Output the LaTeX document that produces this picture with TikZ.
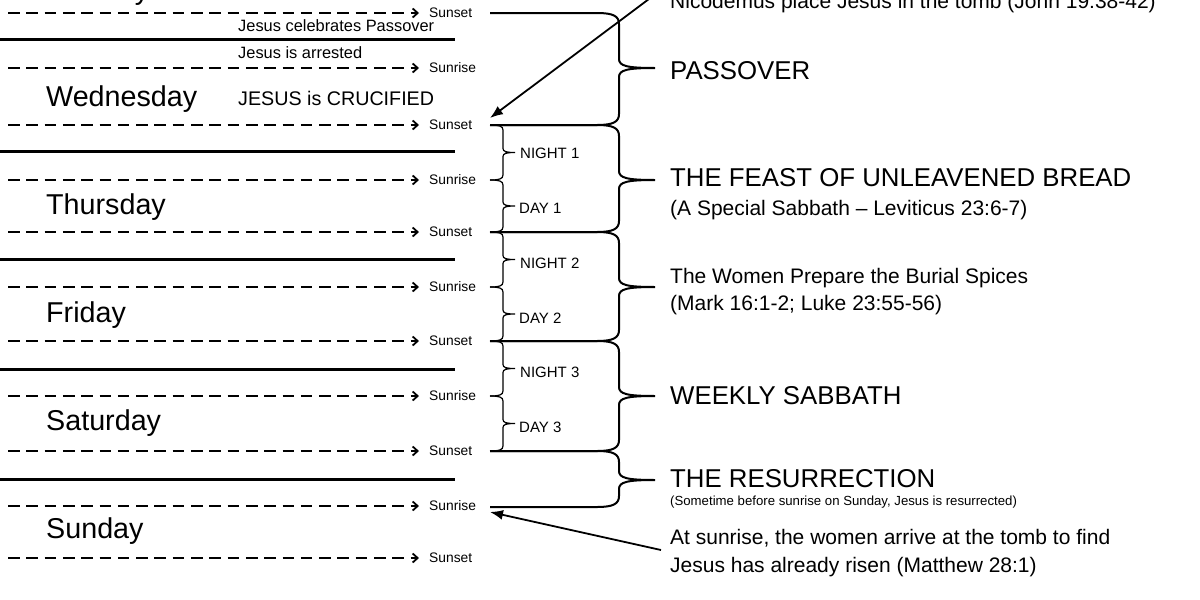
\documentclass[tikz,border=0pt]{standalone}
\usepackage{fontspec}
\setmainfont{Liberation Sans}
\usetikzlibrary{arrows.meta}
\newcommand{\BBrace}[3]{%
  \draw[bbr] (490,#1) -- (597,#1) .. controls (613,#1) and (619,#1+3) .. (619,#1+11)
    -- (619,#3-9) .. controls (619,#3-2) and (627,#3) .. (655,#3)
    .. controls (627,#3) and (619,#3+2) .. (619,#3+9)
    -- (619,#2-11) .. controls (619,#2-3) and (613,#2) .. (597,#2) -- (490,#2);}
\newcommand{\SBrace}[3]{%
  \draw[sbr] (490,#1) .. controls (499,#1) and (503,#1+1) .. (503,#1+5)
    -- (503,#3-4) .. controls (503,#3-1) and (506,#3) .. (515,#3)
    .. controls (506,#3) and (503,#3+1) .. (503,#3+4)
    -- (503,#2-5) .. controls (503,#2-1) and (499,#2) .. (490,#2);}
\begin{document}
\begin{tikzpicture}[x=1pt,y=-1pt,
  dashline/.style={line width=2.8pt, dash pattern=on 11.6pt off 6.7pt,
     shorten >=10pt, -{Straight Barb[length=5pt,width=9pt,line width=1.8pt]}},
  solidline/.style={line width=3pt},
  bbr/.style={line width=2pt},
  sbr/.style={line width=1.2pt},
  ptr/.style={line width=1.8pt, -{Latex[length=13pt,width=10pt]}},
  tick/.style={font=\fontsize{13.8}{16}\selectfont, inner sep=0, anchor=west},
  day/.style={font=\fontsize{28.7}{32}\selectfont, inner sep=0, anchor=base west},
  ev/.style={font=\fontsize{16.4}{20}\selectfont, inner sep=0, anchor=base west},
  crux/.style={font=\fontsize{19.7}{23}\selectfont, inner sep=0, anchor=base west},
  big/.style={font=\fontsize{25.8}{30}\selectfont, inner sep=0, anchor=base west},
  sub/.style={font=\fontsize{21}{25}\selectfont, inner sep=0, anchor=base west},
  tiny/.style={font=\fontsize{13.2}{16}\selectfont, inner sep=0, anchor=base west},
  nd/.style={font=\fontsize{15}{18}\selectfont, inner sep=0, anchor=west}]
\useasboundingbox (0,0) rectangle (1200,600);
\fill[white] (0,0) rectangle (1200,600);
\clip (0,0) rectangle (1200,600);

% dashed sunset / sunrise lines
\foreach \y/\t/\n in {13/Sunset/0,68/Sunrise/1,125/Sunset/2,180/Sunrise/3,232/Sunset/4,
   287/Sunrise/5,341/Sunset/6,396/Sunrise/7,451/Sunset/8,506/Sunrise/9,558/Sunset/10}{
  \coordinate (d\n) at (8,\y);
  \node[tick] (t\n) at (429,\y) {\t};
  \draw[dashline] (d\n) -- (t\n.west);
}
% solid midnight lines
\foreach \y/\n in {39/0,151/1,259/2,369/3,479/4}{
  \coordinate (sa\n) at (0,\y);
  \coordinate (sb\n) at (455,\y);
  \draw[solidline] (sa\n) -- (sb\n);
}

% day names
\node[day] (tue) at (40,-1) {Tuesday};
\node[day] (wed) at (46,106) {Wednesday};
\node[day] (thu) at (46,214) {Thursday};
\node[day] (fri) at (46,322) {Friday};
\node[day] (sat) at (46,430) {Saturday};
\node[day] (sun) at (46,538) {Sunday};

% events
\node[ev] (pass) at (238,31.5) {Jesus celebrates Passover};
\node[ev] (arr) at (238,58) {Jesus is arrested};
\node[crux] (cru) at (238,105) {JESUS is CRUCIFIED};

% big braces
\BBrace{13}{125}{68}
\BBrace{125}{232}{180}
\BBrace{232}{341}{287}
\BBrace{341}{451}{396}
\BBrace{451}{507}{480}

% small braces
\SBrace{125}{180}{152.5}
\SBrace{180}{232}{206}
\SBrace{232}{287}{259.5}
\SBrace{287}{341}{314}
\SBrace{341}{396}{368.5}
\SBrace{396}{451}{423.5}

\node[nd] (n1) at (520,153.5) {NIGHT 1};
\node[nd] (dy1) at (519,208) {DAY 1};
\node[nd] (n2) at (520,263.5) {NIGHT 2};
\node[nd] (dy2) at (519,318) {DAY 2};
\node[nd] (n3) at (520,372) {NIGHT 3};
\node[nd] (dy3) at (519,427) {DAY 3};

% right labels
\node[sub] (nico) at (670,8) {Nicodemus place Jesus in the tomb (John 19:38-42)};
\node[big] (pso) at (670,79) {PASSOVER};
\node[big] (feast) at (670,186) {THE FEAST OF UNLEAVENED BREAD};
\node[sub] (spec) at (670,215) {(A Special Sabbath – Leviticus 23:6-7)};
\node[sub] (wom) at (670,283) {The Women Prepare the Burial Spices};
\node[sub] (mark) at (670,310) {(Mark 16:1-2; Luke 23:55-56)};
\node[big] (wsab) at (670,404) {WEEKLY SABBATH};
\node[big] (res) at (670,487) {THE RESURRECTION};
\node[tiny] (some) at (670,505) {(Sometime before sunrise on Sunday, Jesus is resurrected)};
\node[sub] (at1) at (670,544) {At sunrise, the women arrive at the tomb to find};
\node[sub] (at2) at (670,572) {Jesus has already risen (Matthew 28:1)};

% pointers
\coordinate (p0) at (661,-10);
\coordinate (p1) at (490,118);
\draw[ptr] (p0) -- (p1);
\coordinate (q0) at (661,550);
\coordinate (q1) at (490,512);
\draw[ptr] (q0) -- (q1);
\end{tikzpicture}
\end{document}
